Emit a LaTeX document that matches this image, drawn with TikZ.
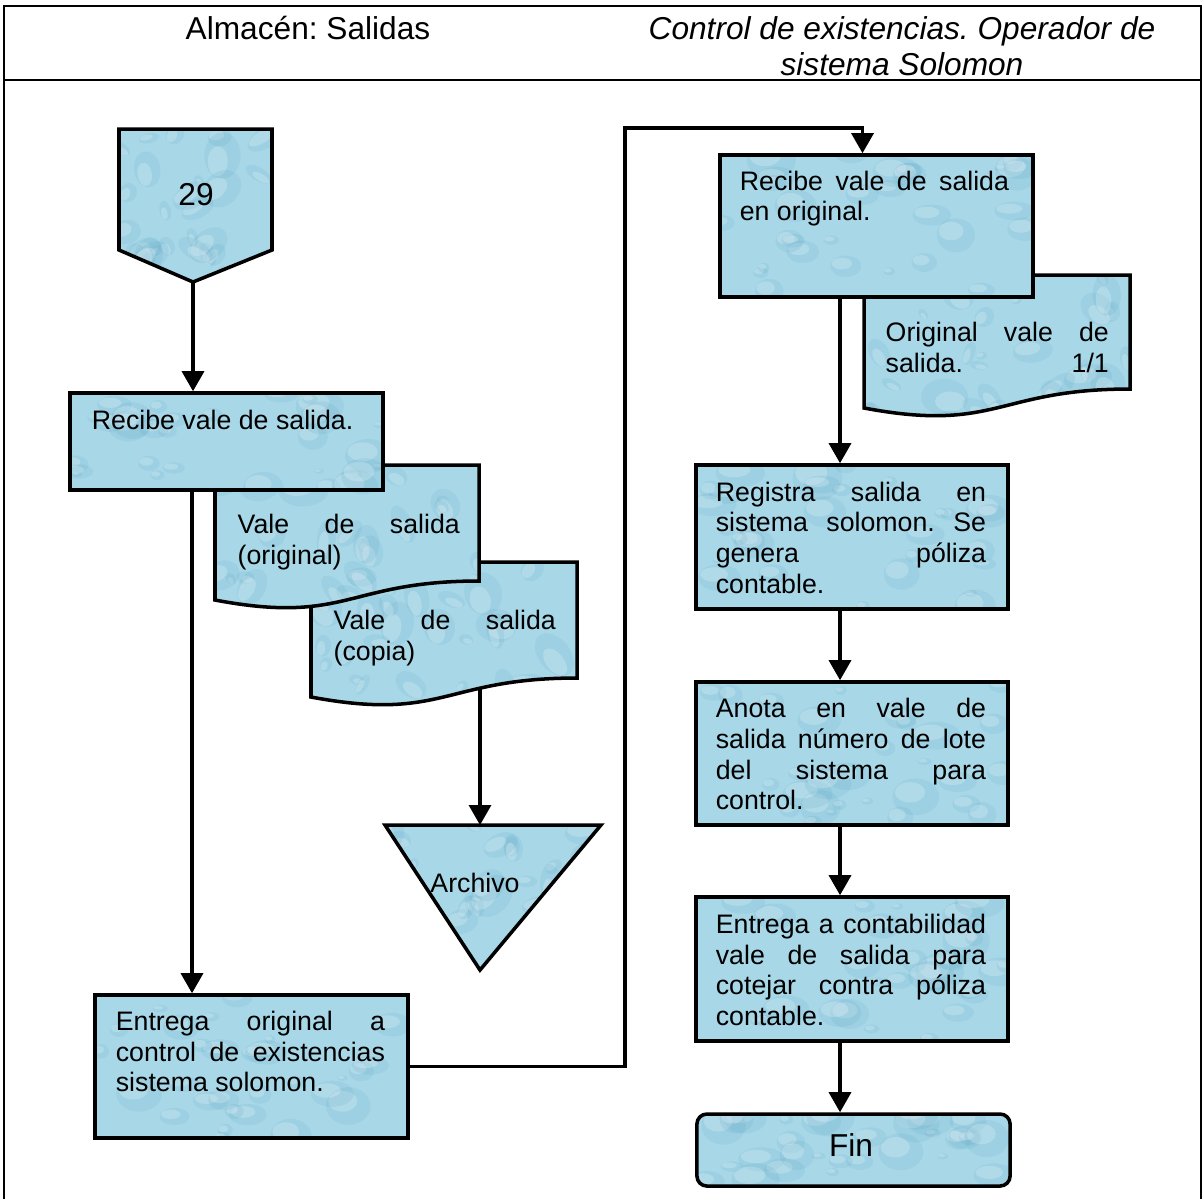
\documentclass[tikz,border=0pt]{standalone}
\usepackage{fontspec}
\setmainfont{Liberation Sans}
\usetikzlibrary{arrows.meta,calc}

\definecolor{water}{RGB}{168,216,232}
\definecolor{waterdark}{RGB}{96,168,198}

% water-drop texture painted inside the current path
\newcommand\dropspots[1]{%
  \coordinate (pp1) at (path picture bounding box.south west);
  \coordinate (pp2) at (path picture bounding box.north east);
  \foreach \k in {1,...,#1}{%
    \pgfmathsetmacro\u{rnd}%
    \pgfmathsetmacro\v{rnd}%
    \pgfmathsetmacro\rr{0.05+0.20*rnd}%
    \pgfmathsetmacro\ry{\rr*(0.45+0.45*rnd)}%
    \pgfmathsetmacro\ang{180*rnd}%
    \coordinate (qx) at ($(pp1)!\u!(pp2|-pp1)$);
    \coordinate (qy) at ($(pp1)!\v!(pp1|-pp2)$);
    \coordinate (qc) at (qx|-qy);
    \fill[waterdark,opacity=0.16,rotate around={\ang:(qc)}] (qc) ellipse ({\rr cm} and {\ry cm});
    \fill[white,opacity=0.22,rotate around={\ang:(qc)}] ([shift={(-0.25*\rr cm,0.25*\ry cm)}]qc) ellipse ({0.65*\rr cm} and {0.55*\ry cm});
  }%
}

\newcommand\bodyfont{\fontsize{7.6}{8.73}\selectfont}
\newcommand\headfont{\fontsize{9}{10.24}\selectfont}

\begin{document}
\frenchspacing
\begin{tikzpicture}[x=0.01cm,y=-0.01cm,
  frame/.style={line width=0.6pt},
  box/.style={draw, line width=1pt, rectangle, inner sep=0pt, fill=water,
              path picture={\dropspots{30}}},
  shapefill/.style={draw, line width=1pt, line join=miter, fill=water,
              path picture={\dropspots{30}}},
  txt/.style={inner sep=0pt, anchor=north west, align=justify, font=\bodyfont},
  big/.style={inner sep=0pt, font=\headfont},
  arr/.style={line width=0.9pt, -{Triangle[width=0.22cm,length=0.2cm]}}]
\pgfmathsetseed{11}
\useasboundingbox (0,0) rectangle (1204,1199);

% outer frame and header row
\draw[frame] (4,1199) -- (4,6) -- (1201,6) -- (1201,1199);
\draw[frame] (4,80) -- (1201,80);
\node[big] (h1) at (308,28) {Almacén: Salidas};
\node[big, align=center, font=\headfont\itshape] (h2) at (902,46)
  {Control de existencias. Operador de\\sistema Solomon};

% off-page connector 29
\path[shapefill] (119,129) -- (272,129) -- (272,250) -- (193,282) -- (119,250) -- cycle;
\coordinate (tip29) at (193,282);
\node[big] (n29) at (196,195) {29};

% documents under the first box
\path[shapefill] (311,562) -- (577,562) -- (577,678)
  .. controls (444,678) and (444,722) .. (311,697) -- cycle;
\coordinate (copiaout) at (480,688);
\path[shapefill] (215,465) -- (479,465) -- (479,581)
  .. controls (347,581) and (347,625) .. (215,600) -- cycle;

\node[box, minimum width=3.13cm, minimum height=0.97cm] (b1) at (226.5,441.5) {};

% file triangle
\path[shapefill] (385,825) -- (601,825) -- (480,970) -- cycle;
\coordinate (archtop) at (480,825);
\node[inner sep=0pt, font=\bodyfont] (arch) at (475,883) {Archivo};

\node[box, minimum width=3.13cm, minimum height=1.43cm] (b2) at (251.5,1066.5) {};

% right column
\path[shapefill] (864,275) -- (1130,275) -- (1130,389)
  .. controls (997,389) and (997,433) .. (864,408) -- cycle;
\node[box, minimum width=3.13cm, minimum height=1.42cm] (b3) at (876.5,226) {};
\node[box, minimum width=3.12cm, minimum height=1.44cm] (b4) at (852,537) {};
\node[box, minimum width=3.12cm, minimum height=1.43cm] (b5) at (852,753.5) {};
\node[box, minimum width=3.12cm, minimum height=1.44cm] (b6) at (852,969) {};
\node[box, rounded corners=0.1cm, minimum width=3.13cm, minimum height=0.72cm,
      font=\headfont] (fin) at (853.5,1150) {};
\node[big] (fintext) at (851,1145) {Fin};

% texts
\node[txt, text width=2.69cm] (t1) at ($(b1.north west)+(23,18)$) {Recibe vale de salida.};
\node[txt, text width=2.22cm] (t2) at (237,513.5) {Vale de salida\linebreak (original)};
\node[txt, text width=2.22cm] (t3) at (333,609.5) {Vale de salida\linebreak (copia)};
\node[txt, text width=2.69cm] (t4) at ($(b2.north west)+(22,17)$)
  {Entrega original a\linebreak control de existencias\linebreak sistema solomon.};
\node[txt, text width=2.69cm] (t5) at ($(b3.north west)+(21,17)$)
  {Recibe vale de salida\linebreak en original.};
\node[txt, text width=2.23cm] (t6) at (885,321.5)
  {Original vale de\linebreak salida.\hfill 1/1\hspace*{0.09cm}};
\node[txt, text width=2.70cm] (t7) at ($(b4.north west)+(21,18)$)
  {Registra salida en\linebreak sistema solomon. Se\linebreak genera póliza\linebreak contable.};
\node[txt, text width=2.70cm] (t8) at ($(b5.north west)+(21,17.5)$)
  {Anota en vale de\linebreak salida número de lote\linebreak del sistema para\linebreak control.};
\node[txt, text width=2.70cm] (t9) at ($(b6.north west)+(21,18)$)
  {Entrega a contabilidad\linebreak vale de salida para\linebreak cotejar contra póliza\linebreak contable.};

% connectors
\coordinate (lx) at (192,0);
\coordinate (rx) at (840,0);
\coordinate (j1) at (625,128);
\draw[arr] (tip29) -- (tip29 |- b1.north);
\draw[arr] (lx |- b1.south) -- (lx |- b2.north);
\draw[arr] (copiaout) -- (archtop);
\draw[arr] (b2.east) -| (j1) -| ($(b3.north)+(-14,0)$);
\draw[arr] (rx |- b3.south) -- (rx |- b4.north);
\draw[arr] (rx |- b4.south) -- (rx |- b5.north);
\draw[arr] (rx |- b5.south) -- (rx |- b6.north);
\draw[arr] (rx |- b6.south) -- (rx |- fin.north);
\end{tikzpicture}
\end{document}
